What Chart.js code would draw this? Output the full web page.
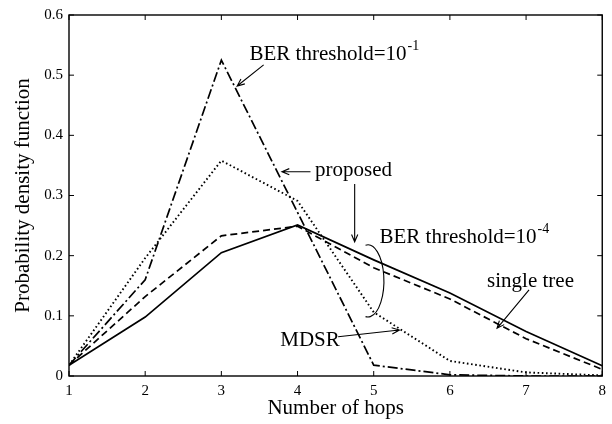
<!DOCTYPE html>
<html>
<head>
<meta charset="utf-8">
<script src="https://cdn.jsdelivr.net/npm/chart.js@4"></script>
<style>
  html, body { margin: 0; padding: 0; background: #fff; }
  canvas { display: block; }
</style>
</head>
<body>
<canvas id="pdfChart" width="612" height="424"></canvas>
<script>
// Number of hops (x axis)
const hops = [1, 2, 3, 4, 5, 6, 7, 8];
const yTickLabels = ['0', '0.1', '0.2', '0.3', '0.4', '0.5', '0.6'];

// Values
const proposedBer4   = [0.018, 0.098, 0.205, 0.251, 0.193, 0.138, 0.074, 0.017]; // solid
const singleTreeBer4 = [0.018, 0.132, 0.233, 0.249, 0.180, 0.128, 0.062, 0.011]; // dashed
const mdsrBer4       = [0.018, 0.196, 0.358, 0.291, 0.106, 0.025, 0.006, 0.001]; // dotted
const proposedBer1   = [0.018, 0.160, 0.525, 0.272, 0.018, 0.002, 0.000, 0.000]; // dash-dot

const toPoints = vals => vals.map((v, i) => ({ x: hops[i], y: v }));

Chart.defaults.font.family = '"Liberation Serif", "Times New Roman", serif';
Chart.defaults.color = '#000';

// text + arrows, all in data coordinates
const notes = {
    texts: [
        { x: 3.369, y: 0.525, text: 'BER threshold=10', sup: '-1' },
        { x: 4.229, y: 0.332, text: 'proposed' },
        { x: 5.076, y: 0.2205, text: 'BER threshold=10', sup: '-4' },
        { x: 6.488, y: 0.148, text: 'single tree' },
        { x: 3.773, y: 0.0504, text: 'MDSR' }
    ],
    arrows: [
        { from: [3.555, 0.517], to: [3.207, 0.482] },
        { from: [4.170, 0.3395], to: [3.795, 0.3395] },
        { from: [4.750, 0.319], to: [4.750, 0.223] },
        { from: [7.039, 0.143], to: [6.619, 0.0793] },
        { from: [4.533, 0.0653], to: [5.336, 0.0764] }
    ],
    bracket: { x: 4.924, y: 0.158, rx: 0.21, ry: 0.06 }
};

const framePlugin = {
    id: 'frame',
    afterDraw(chart) {
        const ctx = chart.ctx;
        const xs = chart.scales.x, ys = chart.scales.y;
        const a = chart.chartArea;
        ctx.save();
        ctx.strokeStyle = '#000';
        ctx.lineWidth = 1.4;
        ctx.setLineDash([]);
        ctx.strokeRect(a.left, a.top, a.right - a.left, a.bottom - a.top);

        // inward ticks on all four sides
        const tl = 5;
        ctx.lineWidth = 1;
        ctx.beginPath();
        hops.forEach(h => {
            const px = xs.getPixelForValue(h);
            ctx.moveTo(px, a.bottom); ctx.lineTo(px, a.bottom - tl);
            ctx.moveTo(px, a.top); ctx.lineTo(px, a.top + tl);
        });
        ys.ticks.forEach(t => {
            const py = ys.getPixelForValue(t.value);
            ctx.moveTo(a.left, py); ctx.lineTo(a.left + tl, py);
            ctx.moveTo(a.right, py); ctx.lineTo(a.right - tl, py);
        });
        ctx.stroke();

        // annotation texts
        ctx.fillStyle = '#000';
        ctx.textBaseline = 'alphabetic';
        ctx.textAlign = 'left';
        notes.texts.forEach(n => {
            const px = xs.getPixelForValue(n.x), py = ys.getPixelForValue(n.y);
            ctx.font = '21px "Liberation Serif", "Times New Roman", serif';
            ctx.fillText(n.text, px, py);
            if (n.sup) {
                const w = ctx.measureText(n.text).width;
                ctx.font = '14px "Liberation Serif", "Times New Roman", serif';
                ctx.fillText(n.sup, px + w + 1, py - 10);
            }
        });

        // arrows with open heads
        ctx.lineWidth = 1.1;
        notes.arrows.forEach(ar => {
            const x1 = xs.getPixelForValue(ar.from[0]), y1 = ys.getPixelForValue(ar.from[1]);
            const x2 = xs.getPixelForValue(ar.to[0]), y2 = ys.getPixelForValue(ar.to[1]);
            const ang = Math.atan2(y2 - y1, x2 - x1);
            const hl = 8, spread = 0.4;
            ctx.beginPath();
            ctx.moveTo(x1, y1); ctx.lineTo(x2, y2);
            ctx.moveTo(x2 - hl * Math.cos(ang - spread), y2 - hl * Math.sin(ang - spread));
            ctx.lineTo(x2, y2);
            ctx.lineTo(x2 - hl * Math.cos(ang + spread), y2 - hl * Math.sin(ang + spread));
            ctx.stroke();
        });

        // bracket grouping the 10^-4 curves
        const b = notes.bracket;
        const cx = xs.getPixelForValue(b.x), cy = ys.getPixelForValue(b.y);
        const rx = xs.getPixelForValue(b.x + b.rx) - cx;
        const ry = cy - ys.getPixelForValue(b.y + b.ry);
        ctx.beginPath();
        ctx.ellipse(cx, cy, rx, ry, 0, -Math.PI / 2 - 0.15, Math.PI / 2 + 0.15);
        ctx.stroke();
        ctx.restore();
    }
};

const ctx = document.getElementById('pdfChart').getContext('2d');
new Chart(ctx, {
    type: 'line',
    data: {
        datasets: [
            {
                label: 'proposed, BER threshold=10^-4',
                data: toPoints(proposedBer4),
                borderColor: '#000',
                borderWidth: 1.7,
                pointRadius: 0,
                tension: 0
            },
            {
                label: 'single tree, BER threshold=10^-4',
                data: toPoints(singleTreeBer4),
                borderColor: '#000',
                borderWidth: 1.7,
                borderDash: [7, 4],
                pointRadius: 0,
                tension: 0
            },
            {
                label: 'MDSR, BER threshold=10^-4',
                data: toPoints(mdsrBer4),
                borderColor: '#000',
                borderWidth: 1.9,
                borderDash: [1.6, 2.6],
                pointRadius: 0,
                tension: 0
            },
            {
                label: 'proposed, BER threshold=10^-1',
                data: toPoints(proposedBer1),
                borderColor: '#000',
                borderWidth: 1.7,
                borderDash: [10, 3, 2, 3],
                pointRadius: 0,
                tension: 0
            }
        ]
    },
    options: {
        responsive: false,
        animation: false,
        layout: { padding: { left: 0, right: 5, top: 15, bottom: 0 } },
        plugins: {
            legend: { display: false },
            tooltip: { enabled: false }
        },
        scales: {
            x: {
                type: 'linear',
                min: 1,
                max: 8,
                afterFit: s => { s.height = 48; },
                grid: { display: false, drawTicks: false },
                border: { display: false },
                ticks: { stepSize: 1, padding: 6, font: { size: 15 }, color: '#000' },
                title: {
                    display: true,
                    text: 'Number of hops',
                    font: { size: 21 },
                    color: '#000',
                    padding: { top: 0, bottom: 3 }
                }
            },
            y: {
                min: 0,
                max: 0.6,
                afterFit: s => { s.width = 69; },
                grid: { display: false, drawTicks: false },
                border: { display: false },
                ticks: {
                    stepSize: 0.1,
                    padding: 6,
                    font: { size: 15 },
                    color: '#000',
                    callback: (v, i) => yTickLabels[i]
                },
                title: {
                    display: true,
                    text: 'Probability density function',
                    font: { size: 21 },
                    color: '#000',
                    padding: { top: 11, bottom: 0 }
                }
            }
        }
    },
    plugins: [framePlugin]
});
</script>
</body>
</html>
